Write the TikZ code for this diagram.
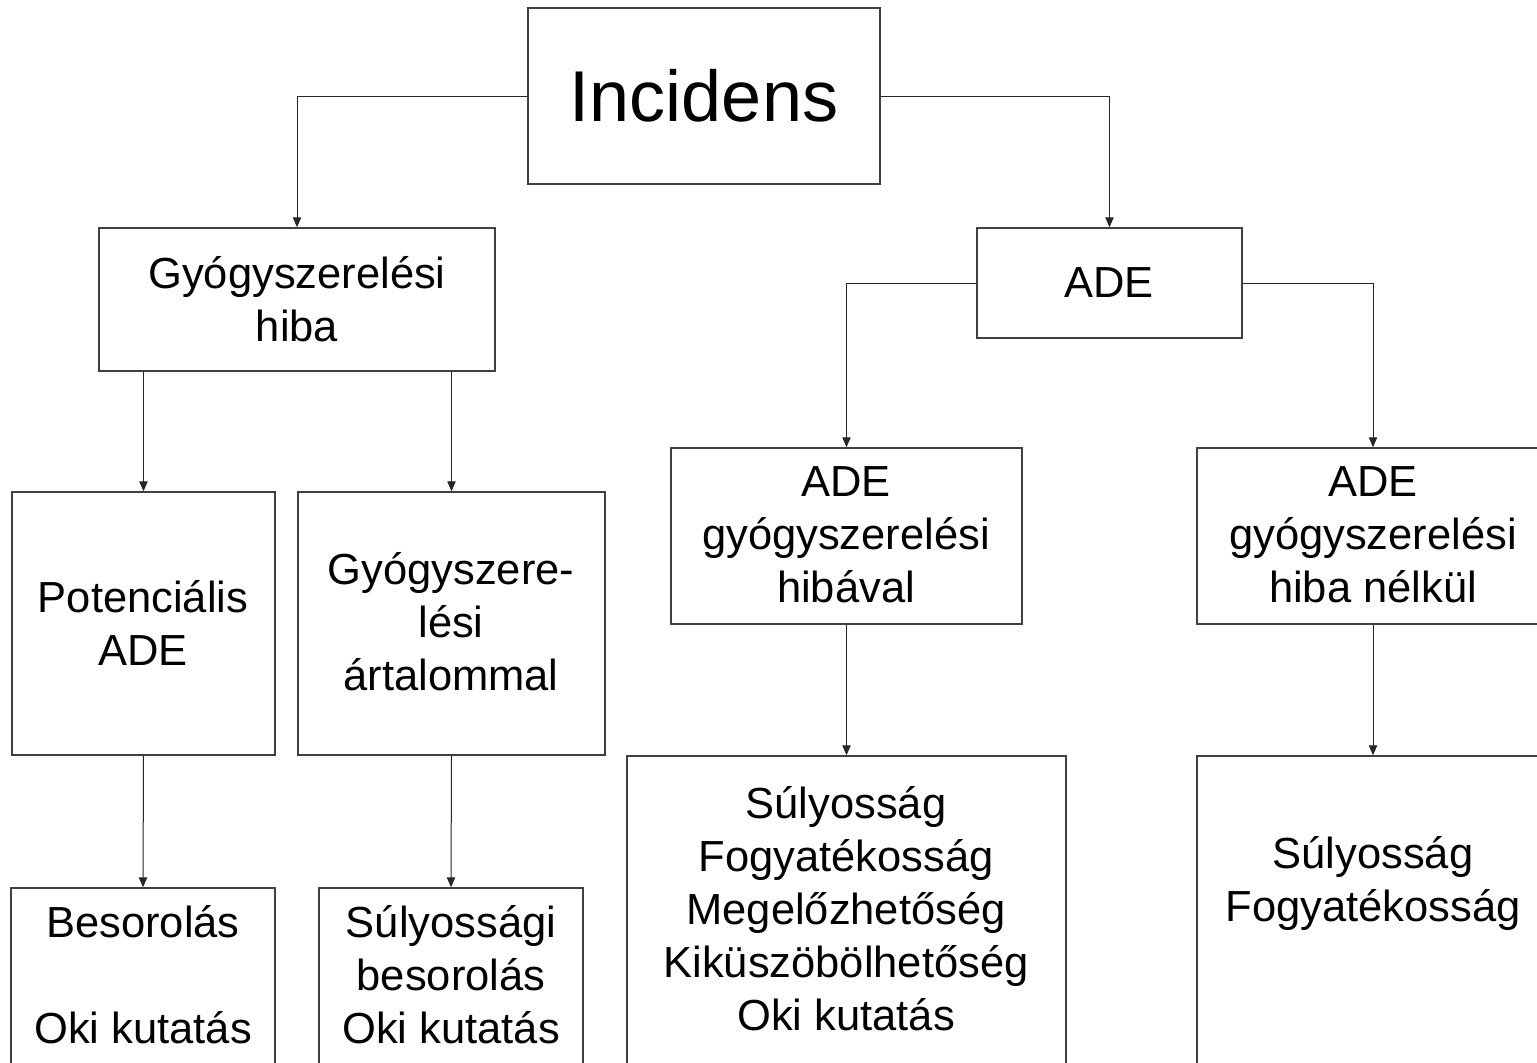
\documentclass[tikz,border=0pt]{standalone}
\usepackage{fontspec}
\setmainfont{Liberation Sans}
\usetikzlibrary{arrows.meta,fit}
\begin{document}
\begin{tikzpicture}[x=0.5pt,y=-0.5pt,
  box/.style={draw=black!75,line width=0.75pt,inner sep=0pt},
  txt/.style={align=center,inner sep=0pt,font=\fontsize{21.75pt}{26.5pt}\selectfont},
  bigtxt/.style={align=center,inner sep=0pt,font=\fontsize{36pt}{43pt}\selectfont},
  conn/.style={draw=black!85,line width=0.5pt,-{Triangle[length=5pt,width=4.2pt]}},
  plain/.style={draw=black!85,line width=0.5pt}]
\useasboundingbox (0,0) rectangle (1537,1062);
\clip (0,0) rectangle (1537,1062);
\fill[white] (0,0) rectangle (1537,1062);
% boxes
\node[box,fit={(528,8) (880,184)}] (inc) {};
\node[box,fit={(99,228) (495,371)}] (gyh) {};
\node[box,fit={(977,228) (1242,338)}] (ade) {};
\node[box,fit={(12,492) (275,755)}] (pot) {};
\node[box,fit={(298,492) (605,755)}] (art) {};
\node[box,fit={(671,448) (1022,624)}] (hib) {};
\node[box,fit={(1197,448) (1549,624)}] (nel) {};
\node[box,fit={(11,888) (275,1100)}] (bes) {};
\node[box,fit={(319,888) (583,1100)}] (sul) {};
\node[box,fit={(627,756) (1066,1100)}] (fog) {};
\node[box,fit={(1197,756) (1549,1100)}] (fog2) {};
% texts
\node[bigtxt] (inc-t) at (704,96) {Incidens};
\node[txt] (gyh-t) at (297,299) {Gyógyszerelési\\hiba};
\node[txt] (ade-t) at (1109,283) {ADE};
\node[txt] (pot-t) at (143,623) {Potenciális\\ADE};
\node[txt] (art-t) at (451,622) {Gyógyszere-\\lési\\ártalommal};
\node[txt] (hib-t) at (846,535) {ADE\\gyógyszerelési\\hibával};
\node[txt] (nel-t) at (1373,535) {ADE\\gyógyszerelési\\hiba nélkül};
\node[txt] (bes-t) at (143,975) {Besorolás\\\mbox{}\\Oki kutatás};
\node[txt] (sul-t) at (451,975) {Súlyossági\\besorolás\\Oki kutatás};
\node[txt] (fog-t) at (846,909) {Súlyosság\\Fogyatékosság\\Megelőzhetőség\\Kiküszöbölhetőség\\Oki kutatás};
\node[txt] (fog2-t) at (1373,883) {Súlyosság\\Fogyatékosság};
% connectors
\draw[conn] (inc.west) -| (gyh.north);
\draw[conn] (inc.east) -| (ade.north);
\draw[conn] (gyh.south -| pot.north) -- (pot.north);
\draw[conn] (gyh.south -| art.north) -- (art.north);
\draw[conn] (ade.west) -| (hib.north);
\draw[conn] (ade.east) -| (nel.north);
\draw[conn] (pot.south) -- (bes.north);
\draw[conn] (art.south) -- (sul.north);
\draw[conn] (hib.south) -- (fog.north);
\draw[conn] (nel.south) -- (fog2.north);
\end{tikzpicture}
\end{document}
